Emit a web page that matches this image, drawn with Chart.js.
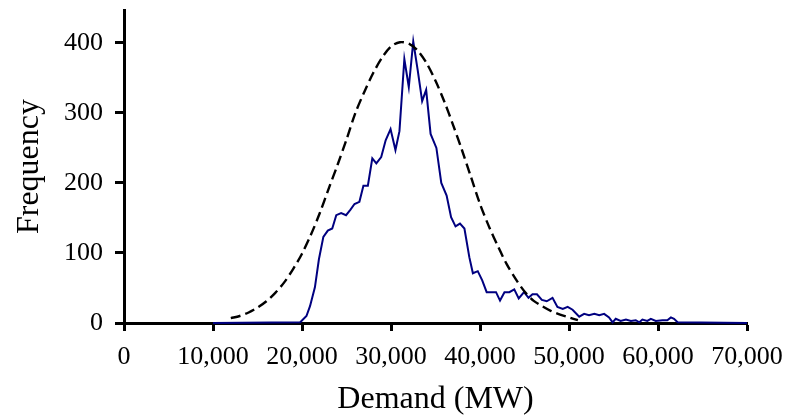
<!DOCTYPE html>
<html>
<head>
<meta charset="utf-8">
<script src="https://cdn.jsdelivr.net/npm/chart.js@4"></script>
<style>
  html, body { margin: 0; padding: 0; background: #fff; }
  #wrap { width: 788px; height: 416px; }
</style>
</head>
<body>
<div id="wrap"><canvas id="chart" width="788" height="416"></canvas></div>
<script>
// 实测需求频数（蓝线）
const actualDemand = [10000, 19800, 20500, 20900, 21450, 21900, 22400, 22900, 23400, 23850,
    24400, 24950, 25450, 25900, 26450, 26900, 27400, 27900, 28350, 28900,
    29400, 29950, 30500, 30950, 31500, 32000, 32500, 33000, 33500, 33950,
    34450, 35100, 35650, 36250, 36750, 37250, 37750, 38250, 38800, 39200,
    39750, 40250, 40750, 41800, 42250, 42750, 43300, 43850, 44350, 44950,
    45450, 45900, 46400, 46950, 47500, 48150, 48700, 49300, 49850, 50400,
    51150, 51700, 52250, 52850, 53400, 53950, 54500, 54900, 55250, 55800,
    56400, 56950, 57500, 57900, 58250, 58800, 59200, 59750, 60500, 61050,
    61450, 61800, 62200, 70000];
const actualFreq = [0, 1, 10, 24, 51, 91, 123, 132, 135, 154,
    157, 154, 162, 170, 173, 196, 196, 235, 228, 237,
    261, 277, 247, 274, 377, 337, 402, 361, 317, 333,
    270, 250, 200, 182, 151, 138, 142, 135, 94, 71,
    74, 61, 44, 44, 32, 44, 44, 48, 35, 44,
    36, 41, 41, 33, 31, 36, 23, 20, 23, 19,
    9, 13, 11, 13, 11, 13, 8, 1, 6, 3,
    5, 3, 4, 1, 5, 3, 6, 3, 4, 4,
    8, 6, 1, 0];

// 拟合曲线（黑色虚线）
const fitDemand = [12000, 13000, 14000, 15000, 16000, 17000, 18000, 19000, 20000, 21000,
    22000, 23000, 24000, 25000, 26000, 27000, 28000, 29000, 30000, 31000,
    32000, 33000, 34000, 35000, 36000, 37000, 38000, 39000, 40000, 41000,
    42000, 43000, 44000, 45000, 46000, 47000, 48000, 49000, 50000, 51000];
const fitFreq = [7, 10, 15, 22, 31, 43, 58, 77, 99, 126,
    157, 192, 226, 262, 300, 330, 357, 379, 395, 401,
    399, 389, 371, 346, 316, 282, 246, 208, 170, 138,
    110, 84, 63, 45, 32, 24, 17, 12, 8, 4];

// 坐标轴刻度
const xTickValues = [0, 10000, 20000, 30000, 40000, 50000, 60000, 70000];
const xTickLabels = ['0', '10,000', '20,000', '30,000', '40,000', '50,000', '60,000', '70,000'];
const yTickValues = [0, 100, 200, 300, 400];
const yTickLabels = ['0', '100', '200', '300', '400'];

const toPoints = (xs, ys) => xs.map((x, i) => ({ x: x, y: ys[i] }));

const FONT = '"Liberation Serif", "Times New Roman", serif';

const makeGrid = (len) => ({
    drawOnChartArea: false,
    drawTicks: true,
    tickLength: len,
    tickWidth: 3,
    tickColor: '#000'
});

new Chart(document.getElementById('chart').getContext('2d'), {
    type: 'line',
    data: {
        datasets: [
            {
                label: 'Fitted',
                data: toPoints(fitDemand, fitFreq),
                borderColor: '#000',
                borderWidth: 2.4,
                borderDash: [10, 5],
                pointRadius: 0,
                tension: 0.3,
                fill: false,
                clip: false
            },
            {
                label: 'Actual',
                data: toPoints(actualDemand, actualFreq),
                borderColor: '#000080',
                borderWidth: 2,
                pointRadius: 0,
                tension: 0,
                fill: false,
                clip: false
            }
        ]
    },
    options: {
        responsive: false,
        animation: false,
        devicePixelRatio: 1,
        layout: { padding: { left: 10, right: 41, top: 10, bottom: 0 } },
        plugins: {
            legend: { display: false },
            tooltip: { enabled: false }
        },
        scales: {
            x: {
                type: 'linear',
                min: 0,
                max: 70000,
                border: { display: true, color: '#000', width: 3 },
                grid: makeGrid(8),
                afterBuildTicks: (scale) => {
                    scale.ticks = xTickValues.map(v => ({ value: v }));
                },
                afterFit: (scale) => {
                    scale.height = 93;
                    scale.paddingLeft = 0;
                    scale.paddingRight = 0;
                },
                ticks: {
                    color: '#000',
                    font: { family: FONT, size: 26 },
                    padding: 11,
                    maxRotation: 0,
                    autoSkip: false,
                    callback: (value) => {
                        const i = xTickValues.indexOf(value);
                        return i >= 0 ? xTickLabels[i] : '';
                    }
                },
                title: {
                    display: true,
                    text: 'Demand (MW)',
                    color: '#000',
                    font: { family: FONT, size: 32 },
                    padding: { top: 0, bottom: -3 }
                }
            },
            y: {
                type: 'linear',
                min: 0,
                max: 447,
                border: { display: true, color: '#000', width: 3 },
                grid: makeGrid(9),
                afterBuildTicks: (scale) => {
                    scale.ticks = yTickValues.map(v => ({ value: v }));
                },
                afterFit: (scale) => {
                    scale.width = 114;
                    scale.paddingTop = 0;
                },
                ticks: {
                    color: '#000',
                    font: { family: FONT, size: 26 },
                    padding: 12,
                    callback: (value) => {
                        const i = yTickValues.indexOf(value);
                        return i >= 0 ? yTickLabels[i] : '';
                    }
                },
                title: {
                    display: true,
                    text: 'Frequency',
                    color: '#000',
                    font: { family: FONT, size: 32 },
                    padding: { top: 0, bottom: 0 }
                }
            }
        }
    }
});
</script>
</body>
</html>
